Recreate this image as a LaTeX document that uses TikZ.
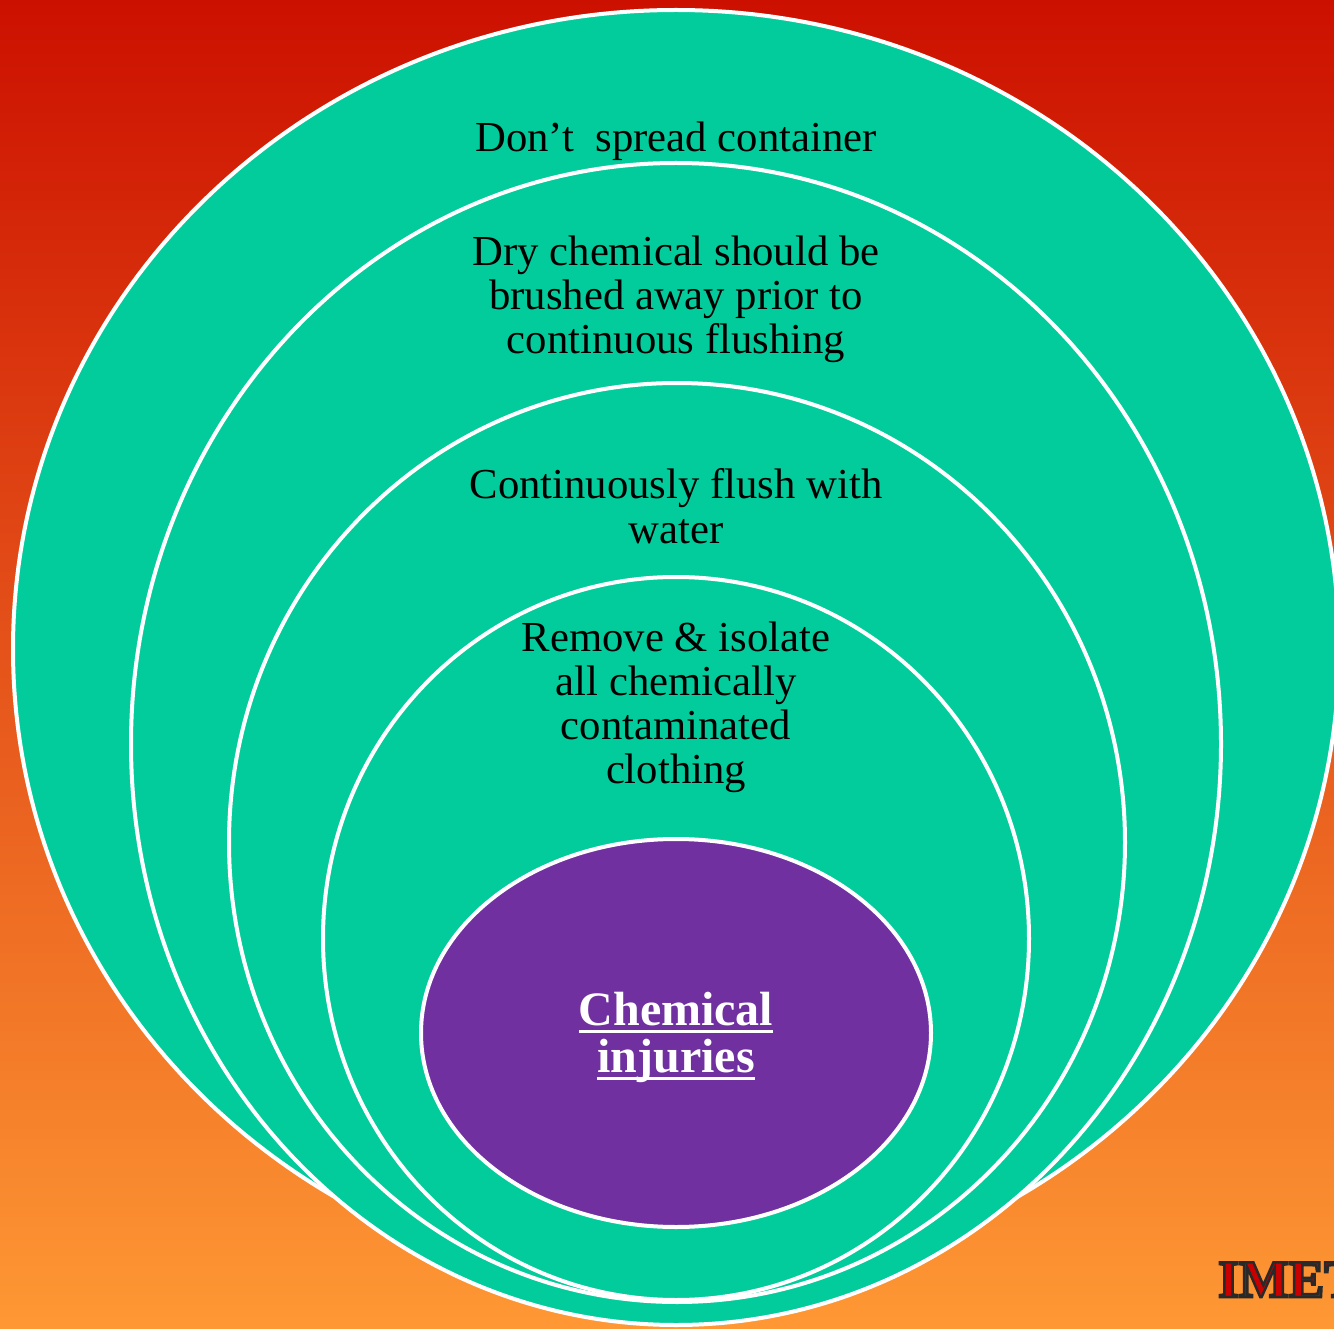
\documentclass[tikz,border=0pt]{standalone}
\usepackage{fontspec}
\setmainfont{Liberation Serif}
\usetikzlibrary{calc}
\definecolor{bgtop}{RGB}{204,16,0}
\definecolor{bgmid}{RGB}{229,86,28}
\definecolor{bgbot}{RGB}{254,152,52}
\definecolor{ringgreen}{RGB}{2,204,156}
\definecolor{corepurple}{RGB}{112,48,160}
\definecolor{imered}{RGB}{200,0,0}
\definecolor{imedark}{RGB}{40,40,40}
\newcommand{\myul}[1]{{\setbox0\hbox{#1}\rlap{\rule[-8pt]{\wd0}{3pt}}\box0}}
\newcommand{\outlinedtext}[1]{\textcolor{imered}{\special{pdf:literal direct 2 Tr 2.5 w 0.16 0.16 0.16 RG}#1\special{pdf:literal direct 0 Tr}}}
\tikzset{
  ring/.style={fill=ringgreen, draw=white, line width=4pt},
  core/.style={fill=corepurple, draw=white, line width=4pt},
  ringtext/.style={font=\fontsize{42.7}{44}\selectfont, align=center, text=black, inner sep=0pt, anchor=base},
  coretext/.style={font=\fontsize{48}{47}\selectfont\bfseries, align=center, text=white, inner sep=0pt, anchor=base},
  logotext/.style={font=\fontsize{53}{53}\selectfont\bfseries, inner sep=0pt, anchor=base west},
}
\begin{document}
\begin{tikzpicture}[x=1pt,y=-1pt]
\useasboundingbox (0,0) rectangle (1334,1329);
\clip (0,0) rectangle (1334,1329);
\shade[top color=bgtop, middle color=bgmid, bottom color=bgbot] (0,0) rectangle (1334,1329);
% rings
\draw[ring] (676,649) ellipse [x radius=663, y radius=639];
\draw[ring] (676,744) ellipse [x radius=545, y radius=581];
\draw[ring] (677,842.5) ellipse [x radius=448, y radius=459.5];
\draw[ring] (676,938.5) ellipse [x radius=353, y radius=361.5];
\draw[core] (676,1033) ellipse [x radius=255, y radius=194];
% texts (base = baseline of last line)
\node[ringtext] (t1) at (676,152) {Don’t~ spread container};
\node[ringtext] (t2) at (676,354) {Dry chemical should be\\brushed away prior to\\continuous flushing};
\node[ringtext] (t3) at (676,543) {Continuously flush with\\water};
\node[ringtext] (t4) at (676,783) {Remove \& isolate\\all chemically\\contaminated\\clothing};
\node[coretext] (t5) at (676,1072) {\myul{Chemical}\\\myul{injuries}};
% logo text
\node[logotext] (logo) at (1218,1297) {\outlinedtext{IMET}};
\end{tikzpicture}
\end{document}
